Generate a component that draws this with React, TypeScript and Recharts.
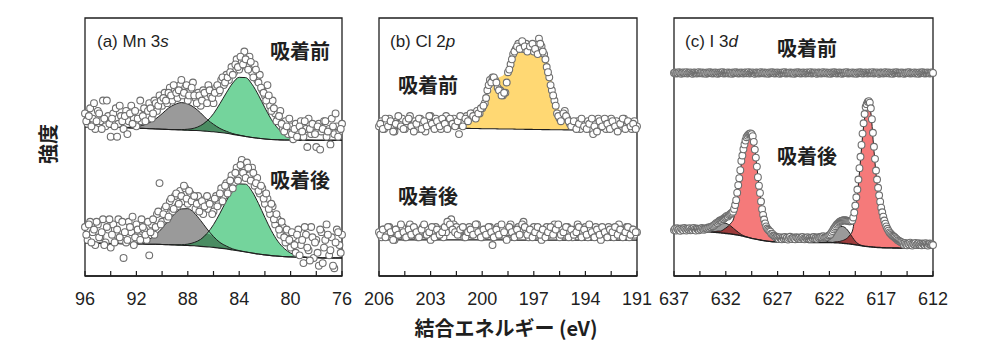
import React from "react";
import { ComposedChart, XAxis, YAxis, Area, Line, Scatter, ReferenceArea } from "recharts";

const seq = (start: number, step: number, n: number): number[] =>
  Array.from({ length: n }, (_, i) => Math.round((start + step * i) * 1000) / 1000);

// ---------- (a) Mn 3s ----------
const mnTicks = [96, 94, 92, 90, 88, 86, 84, 82, 80, 78, 76];
const mnTickLabels = [96, 92, 88, 84, 80, 76];
const mnEnergy = seq(96, -0.2, 101);
const mnEnergy2 = seq(95.9, -0.2, 100);
const mnBeforeCounts = [
  63, 59, 65, 61, 57, 64, 60, 68, 58, 62,
  54, 63, 65, 59, 62, 57, 64, 60, 66, 61,
  58, 63, 60, 65, 62, 67, 61, 68, 64, 70,
  66, 71, 67, 73, 68, 72, 69, 74, 70, 73,
  68, 72, 75, 69, 71, 66, 72, 69, 74, 70,
  67, 73, 71, 76, 74, 78, 76, 81, 79, 84,
  80, 83, 87, 81, 85, 79, 82, 76, 78, 72,
  70, 74, 66, 68, 63, 61, 64, 57, 60, 55,
  58, 53, 59, 56, 60, 54, 57, 61, 55, 58,
  50, 59, 56, 60, 54, 57, 61, 55, 58, 56,
  59,
];
const mnBeforeCounts2 = [
  60, 62, 58, 67, 60, 63, 57, 61, 68, 59,
  61, 58, 54, 66, 60, 62, 55, 63, 59, 64,
  61, 68, 62, 60, 64, 65, 63, 67, 66, 68,
  69, 68, 71, 70, 74, 71, 72, 76, 71, 74,
  70, 73, 70, 67, 70, 68, 71, 67, 72, 69,
  71, 74, 72, 77, 75, 77, 79, 78, 82, 81,
  85, 82, 84, 80, 83, 77, 80, 75, 73, 71,
  68, 70, 64, 65, 60, 62, 59, 56, 58, 61,
  55, 57, 54, 58, 56, 60, 50, 57, 59, 55,
  58, 49, 57, 60, 56, 51, 58, 63, 54, 57,
];
const mnAfterCounts = [
  19, 14, 21, 17, 12, 20, 15, 22, 13, 18,
  11, 20, 16, 22, 14, 7, 13, 21, 17, 12,
  20, 15, 22, 18, 14, 8, 20, 16, 24, 36,
  21, 26, 22, 29, 25, 31, 27, 33, 29, 34,
  28, 32, 30, 26, 31, 27, 24, 30, 26, 29,
  25, 31, 28, 34, 31, 36, 33, 39, 36, 42,
  38, 45, 41, 44, 39, 42, 35, 38, 32, 34,
  28, 30, 24, 27, 20, 22, 16, 19, 13, 17,
  11, 15, 9, 18, 12, 5, 16, 10, 19, 7,
  14, 4, 17, 11, 20, 8, 15, 3, 18, 12,
  16,
];
const mnAfterCounts2 = [
  16, 20, 13, 18, 21, 15, 17, 12, 19, 22,
  16, 13, 18, 15, 21, 17, 14, 19, 23, 15,
  18, 14, 19, 16, 21, 17, 22, 19, 25, 20,
  24, 27, 23, 30, 26, 32, 28, 31, 35, 30,
  33, 29, 31, 28, 25, 29, 27, 31, 28, 24,
  30, 27, 32, 29, 35, 32, 37, 34, 40, 37,
  43, 40, 38, 42, 37, 40, 36, 33, 35, 30,
  32, 26, 28, 22, 24, 18, 21, 15, 18, 14,
  17, 12, 16, 8, 14, 19, 11, 6, 15, 13,
  9, 18, 5, 14, 16, 10, 4, 13, 17, 9,
];
const mnFitEnergy = seq(96, -0.5, 41);
const mnBgBefore = [
  57.8, 57.8, 57.7, 57.7, 57.6, 57.6, 57.5, 57.4, 57.3, 57.2, 57.1, 57.0, 56.9, 56.8, 56.7, 56.6, 56.5, 56.4, 56.3, 56.1,
  55.9, 55.6, 55.3, 54.9, 54.5, 54.1, 53.7, 53.4, 53.1, 52.9, 52.8, 52.7, 52.7, 52.6, 52.6, 52.6, 52.6, 52.6, 52.6, 52.6, 52.6,
];
const mnSatBefore = [
  0, 0, 0, 0, 0, 0, 0.1, 0.25, 0.6, 1.2, 2.3, 3.9, 6.0, 8.3, 9.8, 10.6, 10.2, 8.9, 6.9, 4.6,
  2.9, 1.6, 0.8, 0.3, 0.1, 0, 0, 0, 0, 0, 0, 0, 0, 0, 0, 0, 0, 0, 0, 0, 0,
];
const mnMainBefore = [
  0, 0, 0, 0, 0, 0, 0, 0, 0, 0, 0, 0, 0, 0, 0.05, 0.15, 0.4, 0.9, 2.0, 4.0,
  7.0, 11.2, 15.7, 19.9, 22.5, 22.8, 20.6, 16.7, 12.1, 7.8, 4.5, 2.4, 1.1, 0.5, 0.2, 0.1, 0, 0, 0, 0, 0,
];
const mnBgAfter = [
  12.8, 12.8, 12.7, 12.7, 12.6, 12.6, 12.5, 12.5, 12.4, 12.4, 12.3, 12.3, 12.2, 12.1, 12.0, 11.9, 11.8, 11.7, 11.5, 11.3,
  11.1, 10.8, 10.5, 10.1, 9.7, 9.3, 8.9, 8.5, 8.2, 7.9, 7.7, 7.5, 7.4, 7.3, 7.2, 7.1, 7.1, 7.0, 7.0, 7.0, 7.0,
];
const mnSatAfter = [
  0, 0, 0, 0, 0, 0, 0.04, 0.13, 0.36, 0.9, 1.95, 3.7, 6.3, 9.4, 12.2, 14.1, 14.3, 12.7, 10.0, 6.9,
  4.2, 2.2, 1.1, 0.4, 0.15, 0.05, 0, 0, 0, 0, 0, 0, 0, 0, 0, 0, 0, 0, 0, 0, 0,
];
const mnMainAfter = [
  0, 0, 0, 0, 0, 0, 0, 0, 0, 0, 0, 0, 0, 0.05, 0.1, 0.22, 0.56, 1.3, 2.7, 5.2,
  8.8, 13.5, 18.6, 23.2, 26.0, 26.3, 23.9, 19.6, 14.5, 9.7, 5.8, 3.2, 1.5, 0.7, 0.27, 0.1, 0, 0, 0, 0, 0,
];

// ---------- (b) Cl 2p ----------
const clTicks = [206, 204.5, 203, 201.5, 200, 198.5, 197, 195.5, 194, 192.5, 191];
const clTickLabels = [206, 203, 200, 197, 194, 191];
const clEnergy = seq(206, -0.15, 101);
const clEnergy2 = seq(205.925, -0.15, 100);
const clBeforeCounts = [
  58, 60, 57, 59, 61, 58, 56, 60, 59, 61,
  57, 59, 62, 58, 60, 57, 61, 59, 56, 60,
  62, 58, 61, 59, 57, 60, 62, 58, 60, 61,
  59, 55, 61, 60, 62, 61, 63, 62, 64, 63,
  65, 67, 72, 76, 77, 76, 73, 72, 70, 71,
  79, 82, 86, 88, 90, 89, 88, 90, 88, 89,
  87, 88, 92, 89, 86, 81, 77, 72, 68, 63,
  61, 62, 64, 61, 59, 58, 59, 60, 57, 59,
  58, 60, 57, 55, 59, 61, 58, 60, 57, 59,
  61, 58, 60, 57, 59, 61, 58, 59, 57, 60,
  58,
];
const clBeforeCounts2 = [
  59, 57, 61, 58, 60, 56, 59, 62, 58, 57,
  60, 61, 58, 56, 59, 61, 57, 60, 58, 62,
  59, 57, 60, 58, 61, 59, 57, 61, 59, 58,
  60, 62, 58, 61, 60, 63, 62, 61, 63, 65,
  66, 69, 74, 75, 77, 75, 72, 70, 71, 75,
  80, 84, 87, 89, 88, 91, 89, 87, 89, 90,
  88, 86, 90, 87, 84, 79, 74, 70, 66, 62,
  60, 63, 62, 60, 58, 60, 57, 59, 61, 58,
  57, 59, 61, 58, 56, 60, 58, 61, 59, 57,
  60, 58, 56, 59, 61, 57, 60, 58, 59, 57,
];
const clAfterCounts = [
  17, 15, 18, 16, 19, 17, 14, 18, 16, 19,
  15, 17, 20, 16, 18, 15, 17, 19, 16, 18,
  14, 17, 19, 16, 18, 15, 17, 21, 22, 20,
  19, 17, 18, 15, 17, 19, 16, 18, 20, 17,
  15, 18, 16, 19, 12, 17, 19, 16, 18, 15,
  17, 20, 16, 18, 19, 17, 21, 18, 15, 17,
  19, 16, 18, 14, 17, 19, 16, 18, 20, 17,
  15, 18, 16, 19, 17, 15, 18, 20, 16, 17,
  19, 15, 18, 16, 19, 17, 14, 18, 16, 19,
  17, 15, 18, 20, 16, 17, 19, 15, 18, 16,
  17,
];
const clAfterCounts2 = [
  16, 18, 15, 19, 17, 14, 18, 16, 20, 17,
  15, 18, 16, 19, 17, 15, 18, 20, 16, 17,
  19, 15, 18, 16, 17, 19, 21, 20, 18, 17,
  16, 18, 19, 15, 17, 18, 16, 20, 17, 15,
  18, 16, 19, 17, 15, 18, 16, 20, 17, 14,
  19, 17, 15, 18, 16, 20, 19, 16, 18, 15,
  17, 19, 16, 18, 15, 17, 19, 16, 18, 20,
  16, 17, 19, 15, 18, 16, 17, 19, 15, 18,
  16, 20, 17, 15, 18, 16, 19, 17, 15, 18,
  17, 19, 16, 18, 15, 17, 19, 16, 18, 17,
];
const clFitEnergy = seq(206, -0.25, 61);
const clBgBefore = [
  57.3, 57.3, 57.3, 57.3, 57.3, 57.3, 57.3, 57.3, 57.3, 57.3, 57.3, 57.3, 57.3, 57.3, 57.3, 57.3, 57.3,
  57.3, 57.25, 57.25, 57.2, 57.2, 57.15, 57.15, 57.1, 57.1, 57.05, 57.05, 57.0, 57.0, 56.95, 56.95,
  56.9, 56.9, 56.85, 56.85, 56.8, 56.8, 56.75, 56.75, 56.7, 56.7, 56.7, 56.65, 56.65,
  56.6, 56.6, 56.6, 56.6, 56.6, 56.6, 56.6, 56.6, 56.6, 56.6, 56.6, 56.6, 56.6, 56.6, 56.6, 56.6,
];
const clPeakBefore = [
  0, 0, 0, 0, 0, 0, 0, 0, 0, 0, 0, 0, 0, 0, 0, 0, 0,
  0.3, 0.8, 1.2, 1.6, 2.0, 3.0, 4.5, 6.5, 10, 14.5, 18.5, 20.0, 21, 24, 28, 30.5, 31.5, 31.8, 31.9,
  32.0, 32.0, 31.5, 28.5, 20.5, 12, 7, 4.5, 3, 2, 1.3, 0.8, 0.4, 0.1,
  0, 0, 0, 0, 0, 0, 0, 0, 0, 0, 0,
];
const clBgAfter = [
  14.0, 14.0, 14.0, 14.0, 14.0, 14.0, 14.0, 14.0, 14.0, 14.0, 14.0, 14.0, 14.0, 14.0, 14.0, 14.0,
  14.0, 14.0, 14.0, 14.0, 14.0, 14.0, 14.0, 14.0, 14.0, 14.0, 14.0, 14.0, 14.0, 14.0, 14.0,
  13.9, 13.9, 13.9, 13.9, 13.9, 13.9, 13.9, 13.9, 13.9, 13.9, 13.9, 13.9, 13.9, 13.9, 13.9,
  13.9, 13.9, 13.9, 13.9, 13.9, 13.9, 13.9, 13.9, 13.9, 13.9, 13.9, 13.9, 13.9, 13.9, 13.9,
];

// ---------- (c) I 3d ----------
const iTicks = [637, 634.5, 632, 629.5, 627, 624.5, 622, 619.5, 617, 614.5, 612];
const iTickLabels = [637, 632, 627, 622, 617, 612];
const iEnergy = seq(637, -0.1, 251);
const iBeforeCounts = [
  78.7, 78.9, 78.5, 78.8, 78.6, 79.0, 78.7, 78.4, 78.8, 78.9,
  78.6, 78.7, 79.0, 78.5, 78.8, 78.7, 78.9, 78.6, 78.4, 78.8,
  78.9, 78.7, 78.5, 78.8, 79.0, 78.6, 78.7, 78.9, 78.5, 78.8,
  78.7, 78.4, 78.9, 78.6, 78.8, 79.0, 78.7, 78.5, 78.8, 78.6,
  78.9, 78.7, 78.4, 78.8, 78.6, 78.9, 78.7, 79.0, 78.5, 78.8,
  78.6, 78.7, 78.9, 78.5, 78.8, 78.7, 78.4, 78.9, 78.6, 78.8,
  79.0, 78.7, 78.5, 78.8, 78.6, 78.9, 78.7, 78.5, 78.8, 78.9,
  78.6, 78.7, 79.0, 78.5, 78.8, 78.7, 78.9, 78.6, 78.4, 78.8,
  78.9, 78.7, 78.5, 78.8, 79.0, 78.6, 78.7, 78.9, 78.5, 78.8,
  78.7, 78.4, 78.9, 78.6, 78.8, 79.0, 78.7, 78.5, 78.8, 78.6,
  78.9, 78.7, 78.4, 78.8, 78.6, 78.9, 78.7, 79.0, 78.5, 78.8,
  78.6, 78.7, 78.9, 78.5, 78.8, 78.7, 78.4, 78.9, 78.6, 78.8,
  79.0, 78.7, 78.5, 78.8, 78.6, 78.9, 78.7, 78.5, 78.8, 78.9,
  78.6, 78.7, 79.0, 78.5, 78.8, 78.7, 78.9, 78.6, 78.4, 78.8,
  78.9, 78.7, 78.5, 78.8, 79.0, 78.6, 78.7, 78.9, 78.5, 78.8,
  78.7, 78.4, 78.9, 78.6, 78.8, 79.0, 78.7, 78.5, 78.8, 78.6,
  78.9, 78.7, 78.4, 78.8, 78.6, 78.9, 78.7, 79.0, 78.5, 78.8,
  78.6, 78.7, 78.9, 78.5, 78.8, 78.7, 78.4, 78.9, 78.6, 78.8,
  79.0, 78.7, 78.5, 78.8, 78.6, 78.9, 78.7, 78.5, 78.8, 78.9,
  78.6, 78.7, 79.0, 78.5, 78.8, 78.7, 78.9, 78.6, 78.4, 78.8,
  78.9, 78.7, 78.5, 78.8, 79.0, 78.6, 78.7, 78.9, 78.5, 78.8,
  78.7, 78.4, 78.9, 78.6, 78.8, 79.0, 78.7, 78.5, 78.8, 78.6,
  78.9, 78.7, 78.4, 78.8, 78.6, 78.9, 78.7, 79.0, 78.5, 78.8,
  78.6, 78.7, 78.9, 78.5, 78.8, 78.7, 78.4, 78.9, 78.6, 78.8,
  79.0, 78.7, 78.5, 78.8, 78.6, 78.9, 78.7, 78.5, 78.8, 78.9,
  78.7,
];
const iAfterCounts = [
  17.8, 18.3, 17.6, 18.5, 17.9, 18.2, 17.5, 18.4, 18.0, 17.7,
  18.6, 18.1, 17.6, 18.3, 17.9, 18.5, 17.7, 18.2, 17.8, 18.6,
  18.0, 17.6, 18.4, 18.1, 17.7, 18.3, 18.0, 18.6, 18.2, 17.9,
  18.3, 18.5, 18.4, 18.8, 18.6, 19.0, 18.9, 19.3, 19.4, 19.8,
  20.2, 20.6, 20.5, 21.0, 21.4, 21.6, 21.5, 22.0, 22.2, 22.6,
  22.9, 23.3, 23.1, 23.6, 23.9, 24.2, 24.5, 24.9, 26.0, 27.5,
  29.4, 32.3, 35.2, 37.9, 41.0, 44.6, 46.7, 49.1, 51.0, 52.5,
  53.8, 54.4, 54.9, 55.2, 55.3, 55.0, 54.2, 52.0, 49.0, 45.9,
  42.4, 38.3, 35.0, 32.2, 28.9, 25.9, 23.7, 21.9, 20.4, 19.2,
  18.4, 17.9, 17.5, 17.2, 16.4, 16.3, 15.7, 15.5, 15.0, 15.2,
  14.8, 14.3, 15.0, 14.6, 14.2, 14.9, 14.5, 15.1, 14.4, 14.8,
  14.1, 14.7, 15.2, 14.5, 14.3, 14.9, 14.6, 14.2, 15.0, 14.7,
  14.4, 14.9, 14.3, 14.8, 15.1, 14.5, 14.2, 14.8, 14.6, 15.0,
  14.4, 14.7, 14.3, 14.9, 14.6, 15.1, 14.5, 14.8, 14.4, 15.0,
  14.7, 15.0, 15.2, 14.9, 15.4, 14.8, 14.9, 15.1, 15.2, 15.6,
  15.8, 16.1, 16.8, 17.4, 18.1, 18.7, 19.3, 19.9, 20.3, 20.7,
  21.0, 21.2, 21.4, 21.5, 21.6, 21.6, 21.5, 21.4, 21.3, 21.2,
  21.2, 21.3, 21.5, 22.7, 24.6, 27.3, 30.5, 33.5, 37.4, 41.8,
  46.2, 50.8, 55.2, 59.2, 62.8, 65.5, 66.6, 67.5, 67.8, 67.2,
  65.0, 60.8, 55.5, 50.1, 45.4, 40.9, 37.4, 34.2, 31.3, 28.8,
  26.5, 24.7, 23.0, 21.5, 20.3, 19.2, 18.3, 17.6, 16.9, 16.5,
  16.0, 15.6, 15.3, 15.0, 14.6, 14.3, 13.9, 13.7, 13.4, 13.2,
  13.0, 12.6, 12.1, 12.8, 12.3, 11.9, 12.6, 12.2, 12.9, 12.4,
  11.8, 12.5, 12.2, 12.8, 12.0, 12.4, 12.7, 12.1, 12.5, 11.9,
  12.6, 12.3, 12.0, 12.7, 12.2, 11.8, 12.4, 12.6, 12.1, 12.3,
  12.0,
];
const iFitEnergy = seq(637, -0.25, 101);
const iBgAfter = [
  17.6, 17.6, 17.6, 17.55, 17.5, 17.5, 17.45, 17.4, 17.4, 17.35,
  17.3, 17.25, 17.2, 17.15, 17.1, 17.0, 16.9, 16.8, 16.7, 16.6,
  16.5, 16.4, 16.3, 16.15, 16.0, 15.8, 15.6, 15.35, 15.1, 14.85,
  14.6, 14.4, 14.2, 14.0, 13.8, 13.65, 13.5, 13.4, 13.3, 13.25,
  13.2, 13.2, 13.2, 13.15, 13.1, 13.1, 13.1, 13.1, 13.1, 13.05,
  13.05, 13.05, 13.0, 13.0, 13.0, 13.0, 13.0, 13.0, 13.0, 13.0,
  13.0, 12.95, 12.9, 12.85, 12.8, 12.7, 12.6, 12.5, 12.4, 12.25,
  12.1, 11.95, 11.8, 11.65, 11.5, 11.4, 11.3, 11.2, 11.1, 11.05,
  11.0, 10.95, 10.9, 10.9, 10.9, 10.85, 10.85, 10.8, 10.8, 10.8,
  10.8, 10.8, 10.8, 10.8, 10.8, 10.8, 10.8, 10.8, 10.8, 10.8,
  10.8,
];
const iSatAfter = [
  0, 0, 0, 0, 0, 0, 0, 0, 0, 0, 0, 0, 0, 0, 0.5, 1.2, 2.1, 3.0, 3.6, 3.9,
  3.9, 3.6, 3.0, 2.3, 1.6, 1.0, 0.5, 0.2, 0.1, 0, 0, 0, 0, 0, 0, 0, 0, 0, 0, 0,
  0, 0, 0, 0, 0, 0, 0, 0, 0, 0, 0, 0, 0, 0, 0, 0, 0, 0, 0, 0.3,
  1.0, 2.5, 4.2, 5.5, 6.3, 6.5, 6.2, 5.3, 4.0, 2.6, 1.4, 0.6, 0.2, 0, 0, 0, 0, 0, 0, 0,
  0, 0, 0, 0, 0, 0, 0, 0, 0, 0, 0, 0, 0, 0, 0, 0, 0, 0, 0, 0,
  0,
];
const iMainAfter = [
  0, 0, 0, 0, 0, 0, 0, 0, 0, 0, 0, 0, 0, 0, 0, 0, 0.3, 0.6, 0.7, 1.3,
  2.1, 3.0, 4.2, 6.0, 11.4, 19.2, 28.0, 34.1, 38.1, 39.8, 40.2, 36.5, 28, 19.5, 11.9, 7.3, 4.3, 3.0, 2.0, 1.3,
  0.8, 0.5, 0.3, 0.2, 0.1, 0, 0, 0, 0, 0, 0, 0, 0, 0, 0, 0, 0, 0, 0, 0,
  0, 0, 0.3, 0.4, 0.6, 1.0, 1.5, 2.3, 3.5, 5.6, 12.5, 21.5, 33, 44.5, 52.0, 55.0, 52, 40.0, 28.5, 20.2,
  14.2, 9.8, 7.0, 5.0, 3.8, 2.9, 2.0, 1.4, 0.9, 0.6, 0.4, 0.2, 0.1, 0, 0, 0, 0, 0, 0, 0,
  0,
];

// ---------- tables built from the arrays ----------
const pts = (energy: number[], counts: number[]) => energy.map((e, i) => ({ e, v: counts[i] }));
const mnFit = mnFitEnergy.map((e, i) => ({
  e,
  bt: mnBgBefore[i], gt: mnSatBefore[i], nt: mnMainBefore[i],
  bb: mnBgAfter[i], gb: mnSatAfter[i], nb: mnMainAfter[i],
}));
const clFit = clFitEnergy.map((e, i) => ({ e, bt: clBgBefore[i], pt: clPeakBefore[i], bb: clBgAfter[i] }));
const iFit = iFitEnergy.map((e, i) => ({ e, bb: iBgAfter[i], gb: iSatAfter[i], rb: iMainAfter[i] }));

// ---------- styling ----------
const INK = "#1f1f1f";
const GRAY = "#9a9a9a";
const GREEN = "#74d49c";
const DARK_GREEN = "#4a8c62";
const YELLOW = "#ffd873";
const RED = "#f57a7a";
const DARK_RED = "#9c3b3b";
const SANS = "'Liberation Sans', Arial, Helvetica, sans-serif";
const CJK = "'Noto Sans CJK JP', 'Noto Sans CJK SC', sans-serif";

const makeTick = (labels: number[]) => (props: any) => {
  const { x, y, payload } = props;
  const v = payload.value;
  const show = labels.some((l) => Math.abs(l - v) < 1e-6);
  return (
    <g>
      <line x1={x} x2={x} y1={y} y2={y - 5} stroke={INK} strokeWidth={1.2} />
      {show && (
        <text x={x} y={y + 29} textAnchor="middle" fontSize={18} fontFamily={SANS} fill={INK}>
          {v}
        </text>
      )}
    </g>
  );
};

const Dot = (p: any) => (
  <circle cx={p.cx} cy={p.cy} r={3.4} fill="#ffffff" stroke="#6e6e6e" strokeWidth={1.1} />
);

const CH = { width: 1000, height: 357 };
const M = (left: number, right: number) => ({ top: 18, bottom: 51, left, right });
const layer: React.CSSProperties = { position: "absolute", left: 0, top: 0 };
const noAnim = { isAnimationActive: false, activeDot: false } as const;

export default function App() {
  return (
    <div style={{ position: "absolute", left: 0, top: 0, width: 1000, height: 357, background: "#fff" }}>
      {/* (a) Mn 3s */}
      <div style={layer}>
        <ComposedChart {...CH} data={mnFit} margin={M(85, 658)}>
          <XAxis dataKey="e" type="number" domain={[76, 96]} reversed ticks={mnTicks} interval={0}
            tickSize={0} tickMargin={0} tickLine={false} axisLine={{ stroke: INK, strokeWidth: 1.3 }}
            tick={makeTick(mnTickLabels)} height={30} />
          <YAxis dataKey="v" type="number" domain={[0, 100]} hide />
          <ReferenceArea x1={96} x2={76} y1={0} y2={100} fill="none" stroke={INK} strokeWidth={1.3} />
          <Area type="monotone" dataKey={(d: any) => [d.bt, d.bt + d.gt]} fill={GRAY} fillOpacity={1} stroke="none" {...noAnim} />
          <Area type="monotone" dataKey={(d: any) => [d.bt, d.bt + d.nt]} fill={GREEN} fillOpacity={1} stroke="none" {...noAnim} />
          <Area type="monotone" dataKey={(d: any) => [d.bt, d.bt + Math.min(d.gt, d.nt)]} fill={DARK_GREEN} fillOpacity={1} stroke="none" {...noAnim} />
          <Area type="monotone" dataKey={(d: any) => [d.bb, d.bb + d.gb]} fill={GRAY} fillOpacity={1} stroke="none" {...noAnim} />
          <Area type="monotone" dataKey={(d: any) => [d.bb, d.bb + d.nb]} fill={GREEN} fillOpacity={1} stroke="none" {...noAnim} />
          <Area type="monotone" dataKey={(d: any) => [d.bb, d.bb + Math.min(d.gb, d.nb)]} fill={DARK_GREEN} fillOpacity={1} stroke="none" {...noAnim} />
          <Line type="monotone" dataKey={(d: any) => d.bt + d.gt} stroke={INK} strokeWidth={1} dot={false} {...noAnim} />
          <Line type="monotone" dataKey={(d: any) => d.bt + d.nt} stroke={INK} strokeWidth={1} dot={false} {...noAnim} />
          <Line type="monotone" dataKey={(d: any) => d.bt} stroke={INK} strokeWidth={1.1} dot={false} {...noAnim} />
          <Line type="monotone" dataKey={(d: any) => d.bb + d.gb} stroke={INK} strokeWidth={1} dot={false} {...noAnim} />
          <Line type="monotone" dataKey={(d: any) => d.bb + d.nb} stroke={INK} strokeWidth={1} dot={false} {...noAnim} />
          <Line type="monotone" dataKey={(d: any) => d.bb} stroke={INK} strokeWidth={1.1} dot={false} {...noAnim} />
          <Scatter data={pts(mnEnergy, mnBeforeCounts)} dataKey="v" shape={Dot} isAnimationActive={false} />
          <Scatter data={pts(mnEnergy2, mnBeforeCounts2)} dataKey="v" shape={Dot} isAnimationActive={false} />
          <Scatter data={pts(mnEnergy, mnAfterCounts)} dataKey="v" shape={Dot} isAnimationActive={false} />
          <Scatter data={pts(mnEnergy2, mnAfterCounts2)} dataKey="v" shape={Dot} isAnimationActive={false} />
        </ComposedChart>
      </div>

      {/* (b) Cl 2p */}
      <div style={layer}>
        <ComposedChart {...CH} data={clFit} margin={M(379, 363)}>
          <XAxis dataKey="e" type="number" domain={[191, 206]} reversed ticks={clTicks} interval={0}
            tickSize={0} tickMargin={0} tickLine={false} axisLine={{ stroke: INK, strokeWidth: 1.3 }}
            tick={makeTick(clTickLabels)} height={30} />
          <YAxis dataKey="v" type="number" domain={[0, 100]} hide />
          <ReferenceArea x1={206} x2={191} y1={0} y2={100} fill="none" stroke={INK} strokeWidth={1.3} />
          <Area type="monotone" dataKey={(d: any) => [d.bt, d.bt + d.pt]} fill={YELLOW} fillOpacity={1} stroke="none" {...noAnim} />
          <Line type="monotone" dataKey={(d: any) => d.bt} stroke={INK} strokeWidth={1.1} dot={false} {...noAnim} />
          <Line type="monotone" dataKey={(d: any) => d.bb} stroke={INK} strokeWidth={1.1} dot={false} {...noAnim} />
          <Scatter data={pts(clEnergy, clBeforeCounts)} dataKey="v" shape={Dot} isAnimationActive={false} />
          <Scatter data={pts(clEnergy2, clBeforeCounts2)} dataKey="v" shape={Dot} isAnimationActive={false} />
          <Scatter data={pts(clEnergy, clAfterCounts)} dataKey="v" shape={Dot} isAnimationActive={false} />
          <Scatter data={pts(clEnergy2, clAfterCounts2)} dataKey="v" shape={Dot} isAnimationActive={false} />
        </ComposedChart>
      </div>

      {/* (c) I 3d */}
      <div style={layer}>
        <ComposedChart {...CH} data={iFit} margin={M(674, 67)}>
          <XAxis dataKey="e" type="number" domain={[612, 637]} reversed ticks={iTicks} interval={0}
            tickSize={0} tickMargin={0} tickLine={false} axisLine={{ stroke: INK, strokeWidth: 1.3 }}
            tick={makeTick(iTickLabels)} height={30} />
          <YAxis dataKey="v" type="number" domain={[0, 100]} hide />
          <ReferenceArea x1={637} x2={612} y1={0} y2={100} fill="none" stroke={INK} strokeWidth={1.3} />
          <Area type="monotone" dataKey={(d: any) => [d.bb, d.bb + d.gb]} fill={GRAY} fillOpacity={1} stroke="none" {...noAnim} />
          <Area type="monotone" dataKey={(d: any) => [d.bb, d.bb + d.rb]} fill={RED} fillOpacity={1} stroke="none" {...noAnim} />
          <Area type="monotone" dataKey={(d: any) => [d.bb, d.bb + Math.min(d.gb, d.rb)]} fill={DARK_RED} fillOpacity={1} stroke="none" {...noAnim} />
          <Line type="monotone" dataKey={(d: any) => d.bb + d.gb} stroke={INK} strokeWidth={1} dot={false} {...noAnim} />
          <Line type="monotone" dataKey={(d: any) => d.bb + d.rb} stroke={INK} strokeWidth={1} dot={false} {...noAnim} />
          <Line type="monotone" dataKey={(d: any) => d.bb} stroke={INK} strokeWidth={1.4} dot={false} {...noAnim} />
          <Scatter data={pts(iEnergy, iBeforeCounts)} dataKey="v" shape={Dot} isAnimationActive={false} />
          <Scatter data={pts(iEnergy, iAfterCounts)} dataKey="v" shape={Dot} isAnimationActive={false} />
        </ComposedChart>
      </div>

      {/* text overlay */}
      <svg width={1000} height={357} style={{ ...layer, pointerEvents: "none" }}>
        <text x={97} y={47} fontSize={17} fontFamily={SANS} fill={INK}>(a) Mn 3<tspan fontStyle="italic">s</tspan></text>
        <text x={390} y={47} fontSize={17} fontFamily={SANS} fill={INK}>(b) Cl 2<tspan fontStyle="italic">p</tspan></text>
        <text x={685} y={47} fontSize={17} fontFamily={SANS} fill={INK}>(c) I 3<tspan fontStyle="italic">d</tspan></text>

        <text x={270} y={59} fontSize={20} fontWeight={700} fontFamily={CJK} fill={INK}>吸着前</text>
        <text x={270} y={188} fontSize={20} fontWeight={700} fontFamily={CJK} fill={INK}>吸着後</text>
        <text x={398} y={93} fontSize={20} fontWeight={700} fontFamily={CJK} fill={INK}>吸着前</text>
        <text x={398} y={204} fontSize={20} fontWeight={700} fontFamily={CJK} fill={INK}>吸着後</text>
        <text x={777} y={56} fontSize={20} fontWeight={700} fontFamily={CJK} fill={INK}>吸着前</text>
        <text x={777} y={164} fontSize={20} fontWeight={700} fontFamily={CJK} fill={INK}>吸着後</text>

        <text transform="translate(47,144) rotate(-90)" textAnchor="middle" dominantBaseline="central"
          fontSize={20} fontWeight={700} fontFamily={CJK} fill={INK}>強度</text>
        <text x={506} y={336} textAnchor="middle" fontSize={20} fontWeight={700} fontFamily={CJK} fill={INK}>結合エネルギー (eV)</text>
      </svg>
    </div>
  );
}
